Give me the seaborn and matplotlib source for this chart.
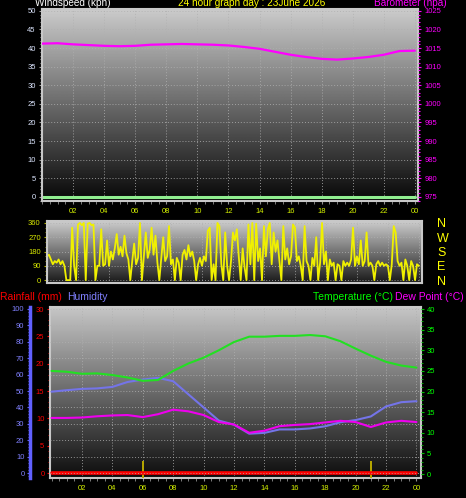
import numpy as np
import pandas as pd
import matplotlib
matplotlib.use("Agg")
import matplotlib.pyplot as plt
from matplotlib.ticker import MultipleLocator, FixedLocator
import seaborn as sns

# hourly readings (hour 0 .. 24)
hours = list(range(25))
barometer = [1016.2, 1016.3, 1016.0, 1015.8, 1015.6, 1015.5, 1015.6, 1015.9, 1016.0,
             1016.1, 1016.0, 1015.9, 1015.7, 1015.3, 1014.8, 1014.0, 1013.2, 1012.6,
             1012.1, 1011.9, 1012.2, 1012.6, 1013.2, 1014.2, 1014.3]
windspeed = [0, 0, 0, 0, 0, 0, 0, 0, 0, 0, 0, 0, 0, 0, 0, 0, 0, 0, 0, 0, 0, 0, 0, 0, 0]
temperature = [25.0, 24.8, 24.3, 24.4, 24.0, 23.4, 22.6, 22.8, 25.0, 26.8, 28.2, 30.0,
               32.0, 33.3, 33.3, 33.5, 33.5, 33.7, 33.4, 32.2, 30.4, 28.7, 27.2, 26.3, 25.8]
humidity = [49.6, 50.5, 51.3, 51.6, 52.5, 55.5, 57.0, 58.0, 56.0, 48.0, 40.0, 32.0,
            29.5, 24.0, 24.5, 26.6, 26.6, 27.2, 28.5, 31.0, 32.3, 34.5, 40.6, 43.2, 43.8]
dewpoint = [13.6, 13.6, 13.7, 14.0, 14.2, 14.3, 13.8, 14.5, 15.6, 15.2, 14.3, 12.6,
            12.0, 10.0, 10.5, 11.6, 11.9, 12.1, 12.5, 12.9, 12.6, 11.4, 12.5, 12.9, 12.6]
rainfall = [0, 0, 0, 0, 0, 0, 0, 0, 0, 0, 0, 0, 0, 0, 0, 0, 0, 0, 0, 0, 0, 0, 0, 0, 0]
marker_hours = [6.0, 21.0]
marker_height = 2.2

# wind direction every 7.5 minutes
wd_deg = [150, 160, 130, 100, 120, 110, 130, 100,
          120, 90, 0, 0, 0, 330, 90, 0,
          350, 360, 345, 360, 0, 355, 360, 345,
          350, 0, 90, 90, 320, 90, 100, 250,
          90, 180, 130, 200, 290, 160, 210, 150,
          280, 170, 130, 0, 120, 230, 100, 140,
          360, 0, 150, 300, 140, 190, 330, 160,
          280, 110, 0, 140, 270, 120, 150, 340,
          100, 130, 0, 140, 110, 0, 160, 190,
          130, 220, 150, 180, 120, 0, 100, 140,
          90, 150, 120, 310, 330, 0, 100, 0,
          360, 340, 100, 0, 300, 90, 0, 120,
          300, 250, 320, 150, 0, 200, 80, 0,
          350, 100, 360, 0, 355, 120, 200, 0,
          340, 150, 320, 360, 100, 300, 180, 250,
          120, 0, 340, 130, 200, 100, 150, 350,
          330, 120, 150, 90, 0, 340, 120, 90,
          0, 140, 90, 270, 0, 110, 360, 100,
          180, 0, 130, 90, 110, 0, 100, 90,
          0, 120, 90, 110, 90, 130, 330, 90,
          150, 100, 250, 90, 120, 300, 90, 110,
          90, 0, 100, 120, 90, 110, 90, 100,
          90, 0, 100, 340, 300, 120, 90, 110,
          0, 130, 90, 0, 120, 90, 0, 100,
          90]
wd_hours = np.arange(len(wd_deg)) * 0.125

hour_ticks = [2, 4, 6, 8, 10, 12, 14, 16, 18, 20, 22, 24]
hour_labels = ["02", "04", "06", "08", "10", "12", "14", "16", "18", "20", "22", "00"]
compass = ["N", "E", "S", "W", "N"]

sns.set_style("dark")
plt.rcParams["font.family"] = ["Liberation Sans", "DejaVu Sans"]

fig = plt.figure(figsize=(4.66, 4.98), dpi=100, facecolor="black")

xlab_col = "#d4f000"
frame_col = "#c8c8c8"


def add_gradient(ax, top, bottom):
    grad = np.linspace(top, bottom, 256).reshape(-1, 1)
    ax.imshow(grad, cmap="gray", vmin=0, vmax=1, extent=[0, 1, 0, 1],
              transform=ax.transAxes, aspect="auto", zorder=-1)


def style_frame(ax):
    for s in ax.spines.values():
        s.set_color(frame_col)
        s.set_linewidth(1.5)
    ax.grid(True, color="#b0b0b0", linestyle=(0, (1, 2)), linewidth=0.7, alpha=0.8)


# ---- top panel: windspeed / barometer
ax1 = fig.add_axes([42 / 466, 1 - 201 / 498, 376 / 466, 192 / 498])
add_gradient(ax1, 0.80, 0.03)
df_top = pd.DataFrame({"hour": hours, "baro": barometer, "wind": windspeed})
sns.lineplot(data=df_top, x="hour", y="wind", ax=ax1, color="#90ee90", linewidth=2.2)
ax1.set_xlim(0, 24.2)
ax1.set_ylim(-1.1, 50.5)
ax1.yaxis.set_major_locator(MultipleLocator(5))
ax1.yaxis.set_minor_locator(MultipleLocator(1))
ax1.set_xticks(hour_ticks)
ax1.set_xticklabels(hour_labels)
ax1.xaxis.set_minor_locator(MultipleLocator(0.5))
ax1.tick_params(axis="y", which="both", left=True, colors="#a0a0a0", labelcolor="#dde6ff",
                labelsize=5.5, length=2.5, width=0.8, pad=2)
ax1.tick_params(axis="y", which="minor", length=1.5)
ax1.tick_params(axis="x", which="both", bottom=True, colors="#909090", labelcolor=xlab_col,
                labelsize=5.5, length=2, pad=3)
ax1.set_xlabel("")
ax1.set_ylabel("")
style_frame(ax1)

ax1b = ax1.twinx()
sns.lineplot(data=df_top, x="hour", y="baro", ax=ax1b, color="#ff00ff", linewidth=1.6)
ax1b.set_ylim(973.9, 1025.5)
ax1b.yaxis.set_major_locator(MultipleLocator(5))
ax1b.yaxis.set_minor_locator(MultipleLocator(1))
ax1b.tick_params(axis="y", which="both", right=True, colors="#ff00ff", labelcolor="#ff00ff",
                 labelsize=5.5, length=2.5, width=0.8, pad=2)
ax1b.tick_params(axis="y", which="minor", length=1.5)
ax1b.set_ylabel("")
ax1b.grid(False)
for s in ax1b.spines.values():
    s.set_visible(False)

top_y = 1 - 3.5 / 498
fig.text(35 / 466, top_y, "Windspeed (kph)", color="white", fontsize=7.2, va="center")
fig.text(252 / 466, top_y, "24 hour graph day : 23June 2026", color="#ffff00",
         fontsize=7.2, va="center", ha="center")
fig.text(447 / 466, top_y, "Barometer (hpa)", color="#ff00ff", fontsize=7.2,
         va="center", ha="right")

# ---- wind direction panel
ax2 = fig.add_axes([47 / 466, 1 - 283 / 498, 375 / 466, 62 / 498])
add_gradient(ax2, 0.80, 0.10)
sns.lineplot(x=wd_hours, y=wd_deg, ax=ax2, color="#f0f000", linewidth=1.3)
ax2.set_xlim(0, 24.2)
ax2.set_ylim(-18, 372)
ax2.set_yticks([0, 90, 180, 270, 360])
ax2.yaxis.set_minor_locator(MultipleLocator(30))
ax2.set_xticks(hour_ticks)
ax2.set_xticklabels([])
ax2.tick_params(axis="y", which="both", left=True, colors="#b0b000", labelcolor="#d8e800",
                labelsize=5.5, length=2.5, pad=2)
ax2.tick_params(axis="y", which="minor", length=1.5)
ax2.tick_params(axis="x", length=0)
style_frame(ax2)

ax2b = ax2.twinx()
ax2b.set_ylim(-18, 372)
ax2b.yaxis.set_major_locator(FixedLocator([0, 90, 180, 270, 360]))
ax2b.set_yticklabels(compass)
ax2b.tick_params(axis="y", length=0, labelcolor="#ffff00", labelsize=9, pad=11)
ax2b.grid(False)
for s in ax2b.spines.values():
    s.set_visible(False)

# ---- bottom panel: rainfall / humidity / temperature / dew point
ax3 = fig.add_axes([50 / 466, 1 - 478 / 498, 371 / 466, 171 / 498])
add_gradient(ax3, 0.78, 0.05)
df_bot = pd.DataFrame({"hour": hours, "temp": temperature, "hum": humidity,
                       "dew": dewpoint, "rain": rainfall})
sns.lineplot(data=df_bot, x="hour", y="rain", ax=ax3, color="#ff0000", linewidth=2.6, zorder=5)
ax3.vlines(marker_hours, -0.9, marker_height, color="#b8a800", linewidth=1.4, zorder=4)
ax3.set_xlim(-0.1, 24.3)
ax3.set_ylim(-0.9, 30.37)
ax3.yaxis.set_major_locator(MultipleLocator(5))
ax3.yaxis.set_minor_locator(MultipleLocator(1))
ax3.set_xticks(hour_ticks)
ax3.set_xticklabels(hour_labels)
ax3.xaxis.set_minor_locator(MultipleLocator(0.5))
ax3.tick_params(axis="y", which="both", left=True, colors="#ff0000", labelcolor="#ff0000",
                labelsize=5.5, length=2.5, pad=1.5)
ax3.tick_params(axis="y", which="minor", length=1.5)
ax3.tick_params(axis="x", which="both", bottom=True, colors="#909090", labelcolor=xlab_col,
                labelsize=5.5, length=2, pad=3)
ax3.set_xlabel("")
ax3.set_ylabel("")
style_frame(ax3)
ax3.yaxis.grid(False)

ax3h = ax3.twinx()
sns.lineplot(data=df_bot, x="hour", y="hum", ax=ax3h, color="#7474e8", linewidth=1.5)
ax3h.set_ylim(-3, 101.2)
ax3h.yaxis.set_major_locator(MultipleLocator(10))
ax3h.yaxis.set_minor_locator(MultipleLocator(2))
ax3h.spines["left"].set_position(("axes", -20 / 371))
ax3h.spines["left"].set_visible(True)
ax3h.spines["left"].set_color("#6060ff")
ax3h.spines["left"].set_linewidth(2.5)
ax3h.spines["left"].set_bounds(-3, 101)
for side in ["right", "top", "bottom"]:
    ax3h.spines[side].set_visible(False)
ax3h.yaxis.set_ticks_position("left")
ax3h.yaxis.set_label_position("left")
ax3h.tick_params(axis="y", which="both", colors="#6060ff", labelcolor="#8080ff",
                 labelsize=5.5, length=2.5, pad=1.5)
ax3h.tick_params(axis="y", which="minor", length=1.5)
ax3h.set_ylabel("")
ax3h.grid(True, axis="y", color="#b0b0b0", linestyle=(0, (1, 2)), linewidth=0.7, alpha=0.8)
ax3h.xaxis.grid(False)

ax3t = ax3.twinx()
sns.lineplot(data=df_bot, x="hour", y="temp", ax=ax3t, color="#22e022", linewidth=1.5)
sns.lineplot(data=df_bot, x="hour", y="dew", ax=ax3t, color="#ee00ee", linewidth=1.5)
ax3t.set_ylim(-0.97, 40.5)
ax3t.yaxis.set_major_locator(MultipleLocator(5))
ax3t.yaxis.set_minor_locator(MultipleLocator(1))
ax3t.tick_params(axis="y", which="both", right=True, colors="#00c000", labelcolor="#00ff00",
                 labelsize=5.5, length=2.5, pad=1.5)
ax3t.tick_params(axis="y", which="minor", length=1.5)
ax3t.set_ylabel("")
ax3t.grid(False)
for s in ax3t.spines.values():
    s.set_visible(False)

ty = 1 - 297 / 498
fig.text(0, ty, "Rainfall (mm)", color="#ff0000", fontsize=7.5, va="center")
fig.text(67 / 466, ty, "Humidity", color="#8080ff", fontsize=7.5, va="center")
fig.text(313 / 466, ty, "Temperature (\u00b0C)", color="#00ff00", fontsize=7.5, va="center")
fig.text(395 / 466, ty, "Dew Point (\u00b0C)", color="#ff00ff", fontsize=7.5, va="center")

fig.savefig("out.png", dpi=100, facecolor="black")
